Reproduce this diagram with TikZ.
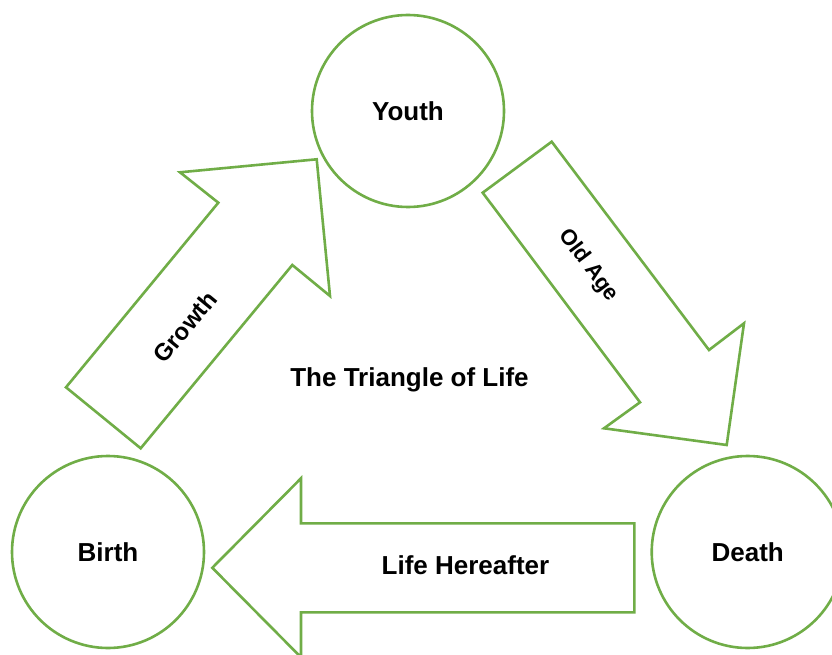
\documentclass[tikz,border=0pt]{standalone}
\usepackage{fontspec}
\setmainfont{Liberation Sans}
\definecolor{leaf}{HTML}{70AD47}
\begin{document}
\begin{tikzpicture}[x=1pt,y=-1pt,
  stage/.style={circle,draw=leaf,line width=2.6pt,fill=white,minimum size=192pt,inner sep=0pt,
    font=\fontsize{26}{30}\selectfont\bfseries},
  bigarrow/.style={draw=leaf,line width=2.6pt,fill=white,line join=miter},
  lbl/.style={font=\fontsize{26}{30}\selectfont\bfseries,inner sep=0pt}]
\useasboundingbox (0,0) rectangle (832,655);

% the three stages
\node[stage] (youth) at (408,111) {Youth};
\node[stage] (birth) at (108,552) {Birth};
\node[stage] (death) at (747.7,552) {Death};

% Growth: block arrow from Birth up to Youth
\draw[bigarrow] (66,387.3) -- (218.3,202.7) -- (180,172.3) -- (316.7,159.3)
  -- (330,296) -- (292.3,265) -- (140.7,448.3) -- cycle;
% Old Age: block arrow from Youth down to Death
\draw[bigarrow] (482.7,192.7) -- (551.7,141.7) -- (709,350) -- (744,323.3)
  -- (726.7,445) -- (604,428.3) -- (640,402.3) -- cycle;
% Life Hereafter: block arrow from Death back to Birth
\draw[bigarrow] (634.3,523.3) -- (634.3,612.3) -- (301,612.3) -- (301,657.3)
  -- (212.3,567.8) -- (301,478.3) -- (301,523.3) -- cycle;

\node[lbl,rotate=50.5,font=\fontsize{24}{28}\selectfont\bfseries] (growth) at (185,327) {Growth};
\node[lbl,rotate=-53,font=\fontsize{22}{26}\selectfont\bfseries] (oldage) at (588.3,265.7) {Old Age};
\node[lbl] (hereafter) at (465.5,565) {Life Hereafter};
\node[lbl] (title) at (409.5,380) {The Triangle of Life};
\end{tikzpicture}
\end{document}
